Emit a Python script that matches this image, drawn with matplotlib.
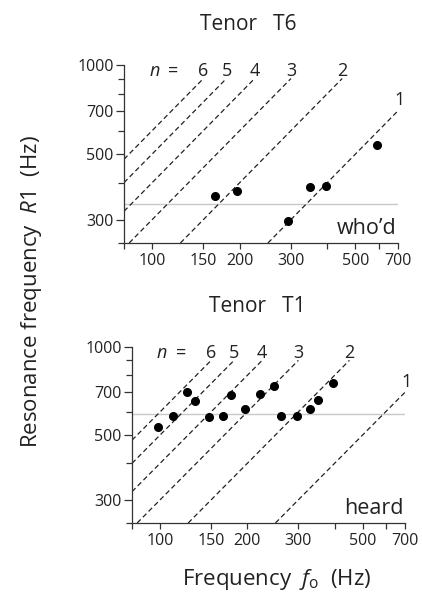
import numpy as np
import matplotlib
matplotlib.use("Agg")
import matplotlib.pyplot as plt
from matplotlib.ticker import FixedLocator, NullFormatter, FixedFormatter

plt.rcParams['font.family'] = ['Open Sans', 'DejaVu Sans']
plt.rcParams['mathtext.fontset'] = 'custom'
plt.rcParams['mathtext.rm'] = 'Open Sans'
plt.rcParams['mathtext.it'] = 'Open Sans:italic'

# ---- data ----
harmonics = [1, 2, 3, 4, 5, 6]

t6_title = "Tenor   T6"
t6_vowel = "who\u2019d"
t6_f = [165, 196, 294, 350, 395, 594]
t6_r = [360, 374, 296, 386, 389, 536]
t6_ref = 340

t1_title = "Tenor   T1"
t1_vowel = "heard"
t1_f = [98, 111, 124, 132, 148, 165, 175, 196, 221, 247, 261, 296, 329, 351, 394]
t1_r = [534, 580, 702, 651, 578, 579, 686, 615, 691, 738, 580, 580, 612, 661, 753]
t1_ref = 590

x_major = [100, 150, 200, 300, 500, 700]
x_minor = [80, 400, 600]
y_major = [300, 500, 700, 1000]
y_minor = [250, 400, 600, 800, 900]
xlim = (80, 700)
ylim = (250, 1000)
line_top = 900

W, H = 422, 596
fig = plt.figure(figsize=(W / 100, H / 100), dpi=100)
TXT = '#222222'

def panel(rect, title, title_xy, vowel, fs, rs, ref):
    ax = fig.add_axes(rect)
    ax.set_xscale('log')
    ax.set_yscale('log')
    ax.set_xlim(*xlim)
    ax.set_ylim(*ylim)
    for s in ('top', 'right'):
        ax.spines[s].set_visible(False)
    for s in ('left', 'bottom'):
        ax.spines[s].set_linewidth(0.9)
        ax.spines[s].set_color('#333333')
    ax.xaxis.set_major_locator(FixedLocator(x_major))
    ax.xaxis.set_major_formatter(FixedFormatter([str(v) for v in x_major]))
    ax.xaxis.set_minor_locator(FixedLocator(x_minor))
    ax.xaxis.set_minor_formatter(NullFormatter())
    ax.yaxis.set_major_locator(FixedLocator(y_major))
    ax.yaxis.set_major_formatter(FixedFormatter([str(v) for v in y_major]))
    ax.yaxis.set_minor_locator(FixedLocator(y_minor))
    ax.yaxis.set_minor_formatter(NullFormatter())
    ax.tick_params(which='both', direction='out', length=4.5, width=0.9,
                   color='#333333', labelsize=11.5, labelcolor=TXT, pad=3)
    ax.tick_params(axis='y', which='major', length=5.5, pad=2)
    ax.tick_params(axis='y', which='minor', length=4)
    # reference horizontal line
    ax.plot(xlim, [ref, ref], color='#c8c8c8', lw=1.0, zorder=1)
    # harmonic lines R = n f
    for n in harmonics:
        f_hi = min(xlim[1], line_top / n)
        f_lo = max(xlim[0], ylim[0] / n)
        f = np.array([f_lo, f_hi])
        ax.plot(f, n * f, color='#222222', lw=0.9, ls=(0, (4, 2.5)), zorder=2)
        if n == 1:
            ax.text(f_hi * 1.01, 760, str(n), fontsize=13, ha='center', va='center', color=TXT)
        else:
            ax.text(line_top / n, 955, str(n), fontsize=13, ha='center', va='center', color=TXT)
    ax.text(123, 955, "=", fontsize=13, ha='right', va='center', color=TXT)
    ax.text(106, 955, "n", fontsize=13, ha='right', va='center', style='italic', color=TXT)
    ax.plot(fs, rs, 'o', color='black', ms=5.5, zorder=3)
    ax.text(690, 280, vowel, fontsize=15.5, ha='right', va='center', color=TXT)
    fig.text(title_xy[0] / W, 1 - title_xy[1] / H, title, fontsize=15, ha='center', va='center', color=TXT)
    return ax

ax1 = panel([124 / W, 1 - 243 / H, 274 / W, 178 / H], t6_title, (248, 25), t6_vowel, t6_f, t6_r, t6_ref)
ax2 = panel([132 / W, 1 - 523 / H, 273 / W, 176 / H], t1_title, (257, 307), t1_vowel, t1_f, t1_r, t1_ref)

fig.text(32 / W, 1 - 292 / H, r"Resonance frequency  $\mathit{R}$1  (Hz)", rotation=90,
         fontsize=16, ha='center', va='center', color=TXT)
fig.text(277 / W, 1 - 580 / H, r"Frequency  $\mathit{f}_{\mathrm{o}}$  (Hz)",
         fontsize=16, ha='center', va='center', color=TXT)

fig.savefig("out.png", dpi=100)
